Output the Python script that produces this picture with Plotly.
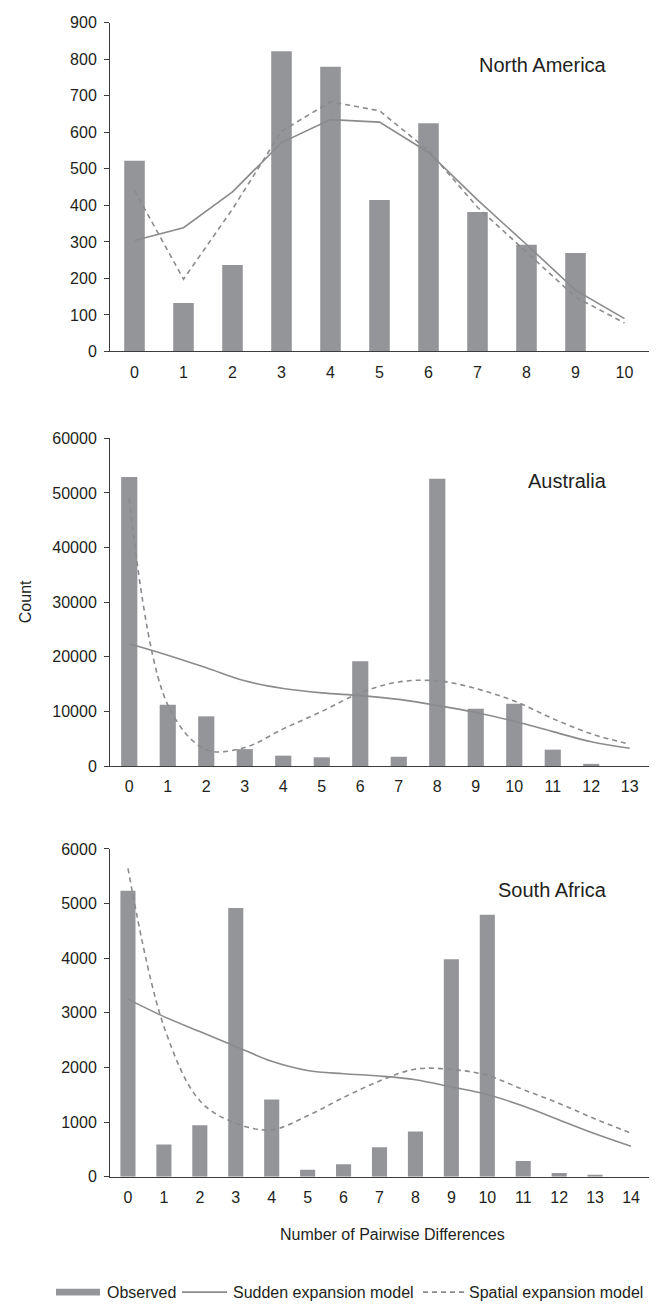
import plotly.graph_objects as go

# ---------------- data ----------------
na_x = list(range(0, 11))
na_observed = [522, 133, 237, 822, 780, 415, 625, 382, 292, 270, None]
na_sudden = [304, 339, 437, 572, 635, 628, 545, 415, 293, 168, 90]
na_spatial = [441, 198, 390, 603, 684, 659, 550, 395, 272, 149, 78]

au_x = list(range(0, 14))
au_observed = [52900, 11200, 9100, 3100, 1900, 1600, 19200, 1700, 52600, 10500, 11400, 3000, 400, None]
au_sudden = [22400, 20300, 18000, 15600, 14200, 13400, 12900, 12200, 11100, 9800, 8200, 6300, 4450, 3250]
au_spatial = [49000, 11200, 3000, 3400, 6800, 10000, 13400, 15400, 15600, 14200, 11900, 8700, 5900, 4000]

sa_x = list(range(0, 15))
sa_observed = [5236, 590, 940, 4920, 1410, 125, 225, 537, 827, 3982, 4795, 284, 66, 36, None]
sa_sudden = [3250, 2930, 2656, 2384, 2112, 1944, 1884, 1842, 1775, 1643, 1504, 1292, 1039, 785, 556]
sa_spatial = [5645, 2750, 1390, 978, 857, 1116, 1449, 1751, 1969, 1963, 1854, 1594, 1341, 1057, 797]

panels = [
    ("North America", na_x, na_observed, na_sudden, na_spatial, 900, 100, "linear"),
    ("Australia", au_x, au_observed, au_sudden, au_spatial, 60000, 10000, "spline"),
    ("South Africa", sa_x, sa_observed, sa_sudden, sa_spatial, 6000, 1000, "spline"),
]

legend_labels = ["Observed", "Sudden expansion model", "Spatial expansion model"]
x_title = "Number of Pairwise Differences"
y_title = "Count"

# ---------------- style ----------------
W, H = 659, 1310
FONT = "Liberation Sans, Arial, sans-serif"
TXT = "#231f20"
AXC = "#3c3c3c"
BAR = "#939598"
LINE = "#8a8b8d"

# pixel frame of each plot area (left, right, top, bottom)
x_left, x_right = 110, 649
panel_px = [(15, 348), (436, 768), (852, 1184)]


def px(x):
    return x / W


def py(y):
    return 1 - y / H


fig = go.Figure()
layout = dict(
    width=W, height=H,
    margin=dict(l=0, r=0, t=0, b=0),
    paper_bgcolor="white", plot_bgcolor="white",
    showlegend=False,
    font=dict(family=FONT, size=16, color=TXT),
    annotations=[], shapes=[],
)

for i, (name, xs, obs, sud, spa, ymax, dtick, shape) in enumerate(panels):
    n = i + 1
    xa = "x" if n == 1 else f"x{n}"
    ya = "y" if n == 1 else f"y{n}"
    fig.add_trace(go.Bar(x=xs, y=obs, width=0.42, marker=dict(color=BAR, line=dict(width=0)),
                         name=legend_labels[0], xaxis=xa, yaxis=ya))
    fig.add_trace(go.Scatter(x=xs, y=sud, mode="lines", line=dict(color=LINE, width=1.6, shape=shape),
                             name=legend_labels[1], xaxis=xa, yaxis=ya))
    fig.add_trace(go.Scatter(x=xs, y=spa, mode="lines",
                             line=dict(color=LINE, width=1.6, dash="5px,4px", shape=shape),
                             name=legend_labels[2], xaxis=xa, yaxis=ya))
    top, bot = panel_px[i]
    layout["xaxis" if n == 1 else f"xaxis{n}"] = dict(
        domain=[px(x_left), px(x_right)], anchor=ya,
        range=[-0.5, len(xs) - 0.5], tickmode="linear", tick0=0, dtick=1,
        showgrid=False, zeroline=False, showline=True, linecolor=AXC, linewidth=1,
        ticks="outside", ticklen=6, tickcolor="rgba(0,0,0,0)",
        tickfont=dict(family=FONT, size=16, color=TXT), fixedrange=True,
    )
    layout["yaxis" if n == 1 else f"yaxis{n}"] = dict(
        domain=[py(bot), py(top)], anchor=xa,
        range=[0, ymax], tickmode="linear", tick0=0, dtick=dtick, tickformat="d",
        showgrid=False, zeroline=False, showline=True, linecolor=AXC, linewidth=1,
        ticks="outside", ticklen=5, tickcolor=AXC, ticklabelstandoff=4,
        tickfont=dict(family=FONT, size=16, color=TXT), fixedrange=True,
    )
    layout["annotations"].append(dict(
        text=name, xref="paper", yref="paper", x=px(609), y=py([58, 479, 894][i]),
        xanchor="right", yanchor="middle", showarrow=False,
        font=dict(family=FONT, size=20, color=TXT),
    ))

# axis titles
layout["annotations"].append(dict(
    text=y_title, xref="paper", yref="paper", x=px(25), y=py(602), textangle=-90,
    xanchor="center", yanchor="middle", showarrow=False, font=dict(family=FONT, size=16, color=TXT)))
layout["annotations"].append(dict(
    text=x_title, xref="paper", yref="paper", x=px(392), y=py(1243),
    xanchor="center", yanchor="middle", showarrow=False, font=dict(family=FONT, size=16, color=TXT)))

# legend (drawn manually to match the original key layout)
ly = 1301
layout["shapes"].append(dict(type="rect", xref="paper", yref="paper",
                             x0=px(56), x1=px(100), y0=py(ly + 3.5), y1=py(ly - 3.5),
                             fillcolor=BAR, line=dict(width=0)))
layout["shapes"].append(dict(type="line", xref="paper", yref="paper",
                             x0=px(182), x1=px(227), y0=py(ly), y1=py(ly),
                             line=dict(color=LINE, width=1.6)))
layout["shapes"].append(dict(type="line", xref="paper", yref="paper",
                             x0=px(423), x1=px(464), y0=py(ly), y1=py(ly),
                             line=dict(color=LINE, width=1.6, dash="5px,4px")))
for lbl, lx in zip(legend_labels, [105, 231, 467]):
    layout["annotations"].append(dict(
        text=lbl, xref="paper", yref="paper", x=px(lx), y=py(ly),
        xanchor="left", yanchor="middle", showarrow=False,
        font=dict(family=FONT, size=16, color=TXT)))

fig.update_layout(**layout)
fig.write_html(
    "out.html",
    config={"displayModeBar": False, "staticPlot": True},
    post_script="document.body.style.margin='0';document.body.style.overflow='hidden';",
)
